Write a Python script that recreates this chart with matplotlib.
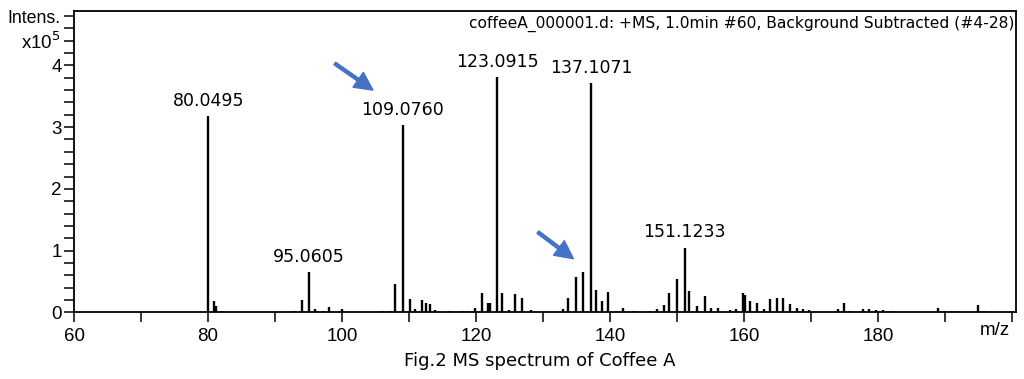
import matplotlib
matplotlib.use('Agg')
import matplotlib.pyplot as plt
from matplotlib.ticker import MultipleLocator

# peak list (m/z, intensity in 1e5 counts)
mz = [80.05, 80.85, 81.2, 82.0,
      92.9, 94.0, 95.06, 95.9, 96.3, 97.2, 98.1, 100.0,
      106.0, 107.1, 107.9, 109.076, 110.1, 110.9, 111.9, 112.5, 113.1, 113.9,
      116.0, 117.9, 118.6, 119.8, 120.9, 121.7, 122.0, 123.09, 123.9, 124.9,
      125.8, 126.9, 128.1,
      132.9, 133.7, 134.9, 135.9, 137.107, 137.8, 138.8, 139.6, 141.9, 143.4,
      146.0, 147.0, 148.0, 148.8, 150.0, 151.123, 151.8, 153.0, 154.1, 155.0,
      156.0, 157.9, 158.8, 159.8, 160.1, 160.9, 161.9, 162.9, 163.9, 164.9,
      165.7, 166.8, 167.8, 168.7, 169.7,
      174.0, 174.8, 175.6, 177.7, 178.6, 179.7, 180.7, 181.9,
      188.9, 189.8, 191.0, 191.9, 194.9, 195.8]
intensity = [3.18, 0.18, 0.10, 0.03,
             0.02, 0.21, 0.66, 0.05, 0.03, 0.03, 0.09, 0.05,
             0.03, 0.02, 0.46, 3.03, 0.22, 0.05, 0.21, 0.16, 0.14, 0.04,
             0.02, 0.02, 0.02, 0.07, 0.31, 0.16, 0.15, 3.81, 0.31, 0.04,
             0.30, 0.24, 0.04,
             0.06, 0.24, 0.57, 0.66, 3.71, 0.36, 0.19, 0.33, 0.07, 0.02,
             0.03, 0.05, 0.12, 0.31, 0.54, 1.05, 0.34, 0.10, 0.27, 0.07,
             0.07, 0.04, 0.05, 0.31, 0.28, 0.19, 0.16, 0.05, 0.22, 0.24,
             0.24, 0.14, 0.08, 0.06, 0.04,
             0.05, 0.16, 0.03, 0.06, 0.05, 0.04, 0.04, 0.03,
             0.08, 0.02, 0.02, 0.02, 0.12, 0.03]

# labelled peaks
label_mz = [80.0495, 95.0605, 109.0760, 123.0915, 137.1071, 151.1233]
label_int = [3.18, 0.66, 3.03, 3.81, 3.71, 1.05]

# annotation arrows (tail, head)
arrow_tail = [(98.9, 4.03), (129.2, 1.30)]
arrow_head = [(104.6, 3.60), (134.5, 0.87)]

fig = plt.figure(figsize=(10.24, 3.79), dpi=100)
ax = fig.add_axes([0.0723, 0.1755, 0.9197, 0.7955])

ax.vlines(mz, 0, intensity, color='black', linewidth=1.7)

for x, y in zip(label_mz, label_int):
    ax.text(x, y + 0.10, '{0:.4f}'.format(x), ha='center', va='bottom',
            fontsize=12.5, family='DejaVu Sans')

for (tx, ty), (hx, hy) in zip(arrow_tail, arrow_head):
    ax.annotate('', xy=(hx, hy), xytext=(tx, ty),
                arrowprops=dict(facecolor='#4472C4', edgecolor='#4472C4',
                                width=2.2, headwidth=13, headlength=13,
                                shrink=0))

ax.set_xlim(60, 200.5)
ax.set_ylim(0, 4.88)
ax.xaxis.set_minor_locator(MultipleLocator(10))
ax.yaxis.set_major_locator(MultipleLocator(1))
ax.yaxis.set_minor_locator(MultipleLocator(0.2))
ax.set_xticks(range(60, 201, 20))
ax.set_xticklabels([str(v) for v in range(60, 181, 20)] + [''])
ax.tick_params(which='both', direction='out', length=7, width=1.1,
               labelsize=13.5, pad=4)
ax.tick_params(axis='y', which='both', pad=2)
for lbl in ax.get_xticklabels() + ax.get_yticklabels():
    lbl.set_family('Liberation Sans')
for s in ax.spines.values():
    s.set_linewidth(1.3)

ax.text(0.998, 0.985, 'coffeeA_000001.d: +MS, 1.0min #60, Background Subtracted (#4-28)',
        transform=ax.transAxes, ha='right', va='top', fontsize=11.2,
        family='DejaVu Sans')

fig.text(0.059, 0.952, 'Intens.', ha='right', va='center', fontsize=12.8,
         family='Liberation Sans')
fig.text(0.059, 0.888, 'x10$^5$', ha='right', va='center', fontsize=13.5,
         family='Liberation Sans')
fig.text(0.972, 0.128, 'm/z', ha='center', va='center', fontsize=13.5,
         family='Liberation Sans')
fig.text(0.527, 0.047, 'Fig.2 MS spectrum of Coffee A', ha='center', va='center',
         fontsize=13, family='DejaVu Sans')

fig.savefig('out.png', dpi=100)
